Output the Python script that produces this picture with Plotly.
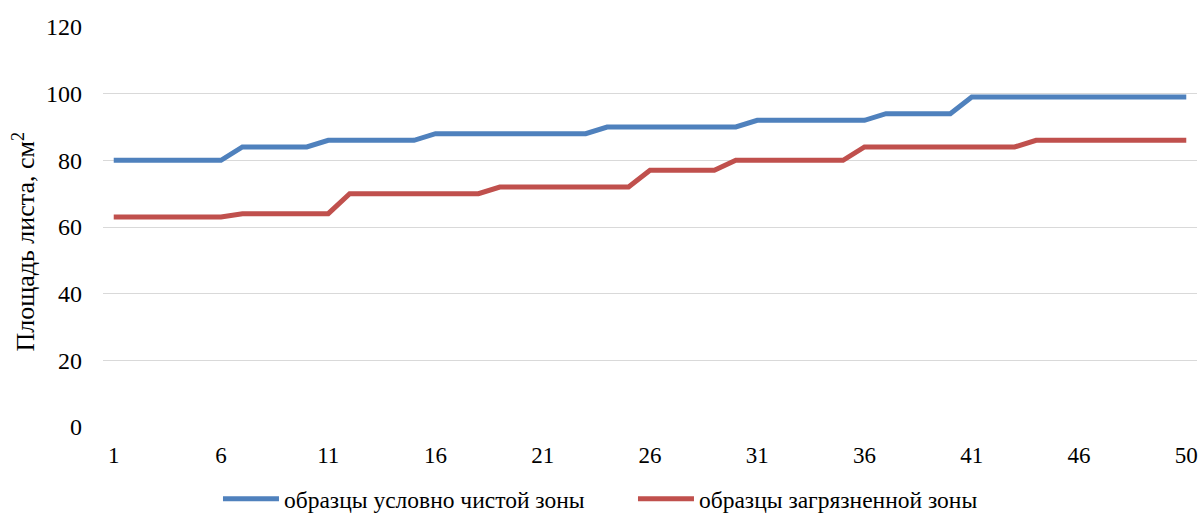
import plotly.graph_objects as go

# Sample positions (category axis); the last tick label in the source reads "50"
samples = list(range(1, 52))
tick_positions = [1, 6, 11, 16, 21, 26, 31, 36, 41, 46, 51]
tick_labels = ["1", "6", "11", "16", "21", "26", "31", "36", "41", "46", "50"]
y_ticks = [0, 20, 40, 60, 80, 100, 120]

clean_zone = ([80] * 6 + [84] * 4 + [86] * 5 + [88] * 8 + [90] * 7 +
              [92] * 6 + [94] * 4 + [99] * 11)
polluted_zone = ([63] * 6 + [64] * 5 + [70] * 7 + [72] * 7 + [77] * 4 +
                 [80] * 6 + [84] * 8 + [86] * 8)

series_names = ["образцы условно чистой зоны", "образцы загрязненной зоны"]
y_title = "Площадь листа, см<sup>2</sup>"

FONT = "Liberation Serif"

fig = go.Figure()
fig.add_trace(go.Scatter(x=samples, y=clean_zone, mode="lines", name=series_names[0],
                         line=dict(color="#4F81BD", width=5)))
fig.add_trace(go.Scatter(x=samples, y=polluted_zone, mode="lines", name=series_names[1],
                         line=dict(color="#C0504D", width=5)))

fig.update_layout(
    width=1199, height=518,
    margin=dict(l=103, r=2, t=27, b=91, autoexpand=False),
    paper_bgcolor="white", plot_bgcolor="white",
    font=dict(family=FONT, size=24, color="#000000"),
    showlegend=True,
    legend=dict(orientation="h", x=0.1051, xanchor="left", y=-0.18, yanchor="middle",
                font=dict(family=FONT, size=23.5, color="#000000"),
                itemwidth=56, entrywidth=344, traceorder="normal"),
    xaxis=dict(range=[0.5, 51.5], tickmode="array", tickvals=tick_positions,
               ticktext=tick_labels, showgrid=False, zeroline=False, showline=False,
               ticks="", ticklabelstandoff=12, automargin=False,
               tickfont=dict(family=FONT, size=23, color="#000000")),
    yaxis=dict(range=[0, 120], tickmode="array", tickvals=y_ticks,
               showgrid=True, gridcolor="#d9d9d9", gridwidth=1, zeroline=False,
               showline=False, ticks="", ticklabelstandoff=20, automargin=False,
               tickfont=dict(family=FONT, size=24, color="#000000")),
    annotations=[dict(text=y_title, xref="paper", yref="paper", x=-0.0726, y=0.4625,
                      xanchor="center", yanchor="middle", textangle=-90, showarrow=False,
                      font=dict(family=FONT, size=26, color="#000000"))],
)

# remove the page's default body margin so the figure fills the window exactly
fig.write_html("out.html",
               config={"displayModeBar": False},
               post_script="document.body.style.margin='0';"
                           "document.body.style.overflow='hidden';")
